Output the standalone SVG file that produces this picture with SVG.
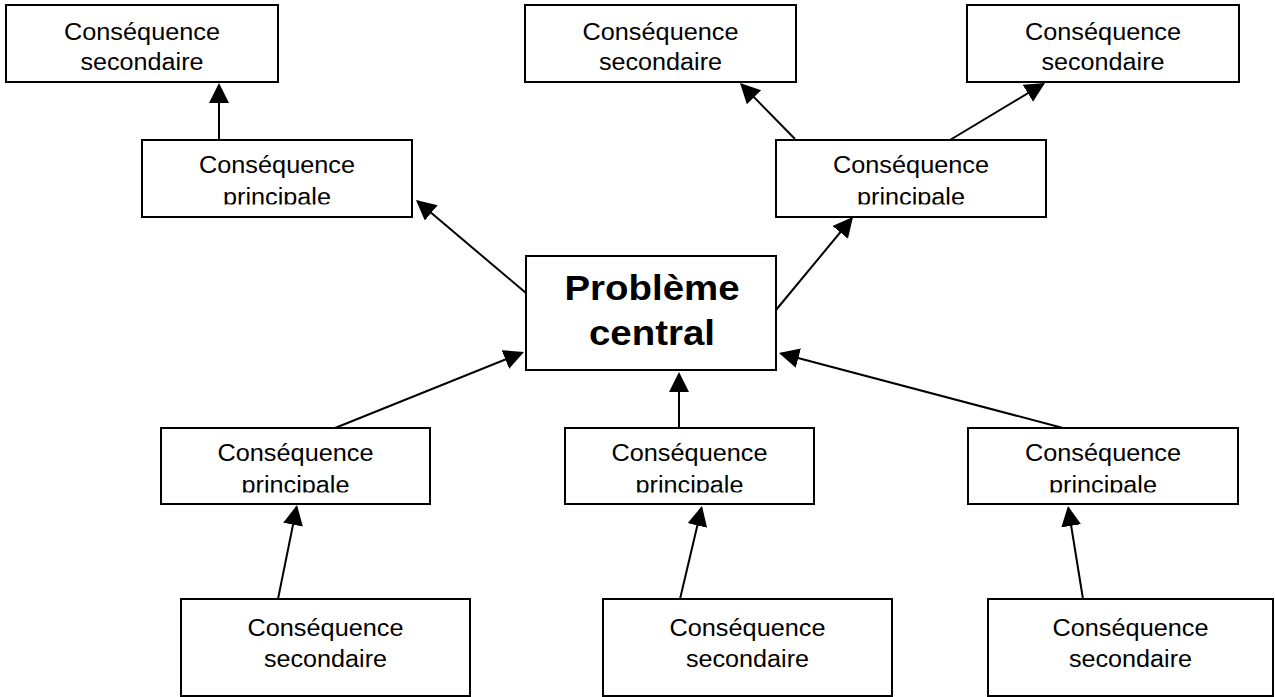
<svg xmlns="http://www.w3.org/2000/svg" width="1275" height="697" viewBox="0 0 1275 697">
  <style>
    .box { fill: #ffffff; stroke: #000000; stroke-width: 2; }
    .t { font-family: "Liberation Sans", Arial, sans-serif; font-size: 23.5px; fill: #000000; text-anchor: middle; }
    .tb { font-family: "Liberation Sans", Arial, sans-serif; font-size: 35px; font-weight: bold; fill: #000000; text-anchor: middle; }
    .conn line { stroke: #000000; stroke-width: 2; marker-end: url(#arrow); }
  </style>
  <defs>
    <marker id="arrow" markerUnits="userSpaceOnUse" markerWidth="21" markerHeight="21" refX="18" refY="10" orient="auto">
      <path d="M0,0 L20,10 L0,20 Z" fill="#000000"/>
    </marker>
    <clipPath id="cTL" clipPathUnits="userSpaceOnUse"><rect x="142" y="140" width="270" height="64.5"/></clipPath>
    <clipPath id="cTR" clipPathUnits="userSpaceOnUse"><rect x="776" y="140" width="270" height="64.5"/></clipPath>
    <clipPath id="cBL" clipPathUnits="userSpaceOnUse"><rect x="161" y="428" width="269" height="64.5"/></clipPath>
    <clipPath id="cBM" clipPathUnits="userSpaceOnUse"><rect x="565" y="428" width="249" height="64.5"/></clipPath>
    <clipPath id="cBR" clipPathUnits="userSpaceOnUse"><rect x="968" y="428" width="270" height="64.5"/></clipPath>
  </defs>
  <rect x="0" y="0" width="1275" height="697" fill="#ffffff"/>

  <g class="conn" id="connectors">
    <line x1="219" y1="140" x2="219" y2="85"/>
    <line x1="795" y1="139" x2="741.4" y2="84.4"/>
    <line x1="950" y1="140" x2="1043.3" y2="84"/>
    <line x1="526" y1="293" x2="417.5" y2="201.3"/>
    <line x1="776" y1="310" x2="851.7" y2="218.5"/>
    <line x1="335" y1="428" x2="522.1" y2="352.7"/>
    <line x1="679" y1="428" x2="679" y2="374"/>
    <line x1="1063" y1="428" x2="780.9" y2="353.5"/>
    <line x1="278" y1="599" x2="296.6" y2="507"/>
    <line x1="680" y1="599" x2="701.5" y2="507.9"/>
    <line x1="1083" y1="599" x2="1068.3" y2="508"/>
  </g>

  <g id="central">
    <rect class="box" x="526" y="256" width="250" height="114"/>
    <text class="tb" x="652" y="300" textLength="175" lengthAdjust="spacingAndGlyphs">Problème</text>
    <text class="tb" x="652" y="345" textLength="126" lengthAdjust="spacingAndGlyphs">central</text>
  </g>

  <g id="sec-top-left">
    <rect class="box" x="6" y="5" width="272" height="77"/>
    <text class="t" x="142" y="40" textLength="156" lengthAdjust="spacingAndGlyphs">Conséquence</text>
    <text class="t" x="142" y="70" textLength="123" lengthAdjust="spacingAndGlyphs">secondaire</text>
  </g>
  <g id="sec-top-mid">
    <rect class="box" x="525" y="5" width="271" height="77"/>
    <text class="t" x="660.5" y="40" textLength="156" lengthAdjust="spacingAndGlyphs">Conséquence</text>
    <text class="t" x="660.5" y="70" textLength="123" lengthAdjust="spacingAndGlyphs">secondaire</text>
  </g>
  <g id="sec-top-right">
    <rect class="box" x="967" y="5" width="272" height="77"/>
    <text class="t" x="1103" y="40" textLength="156" lengthAdjust="spacingAndGlyphs">Conséquence</text>
    <text class="t" x="1103" y="70" textLength="123" lengthAdjust="spacingAndGlyphs">secondaire</text>
  </g>

  <g id="prin-top-left">
    <rect class="box" x="142" y="140" width="270" height="77"/>
    <g clip-path="url(#cTL)">
      <text class="t" x="277" y="173" textLength="156" lengthAdjust="spacingAndGlyphs">Conséquence</text>
      <text class="t" x="277" y="205" textLength="108" lengthAdjust="spacingAndGlyphs">principale</text>
    </g>
  </g>
  <g id="prin-top-right">
    <rect class="box" x="776" y="140" width="270" height="77"/>
    <g clip-path="url(#cTR)">
      <text class="t" x="911" y="173" textLength="156" lengthAdjust="spacingAndGlyphs">Conséquence</text>
      <text class="t" x="911" y="205" textLength="108" lengthAdjust="spacingAndGlyphs">principale</text>
    </g>
  </g>

  <g id="prin-bottom-left">
    <rect class="box" x="161" y="428" width="269" height="76"/>
    <g clip-path="url(#cBL)">
      <text class="t" x="295.5" y="461" textLength="156" lengthAdjust="spacingAndGlyphs">Conséquence</text>
      <text class="t" x="295.5" y="493" textLength="108" lengthAdjust="spacingAndGlyphs">principale</text>
    </g>
  </g>
  <g id="prin-bottom-mid">
    <rect class="box" x="565" y="428" width="249" height="76"/>
    <g clip-path="url(#cBM)">
      <text class="t" x="689.5" y="461" textLength="156" lengthAdjust="spacingAndGlyphs">Conséquence</text>
      <text class="t" x="689.5" y="493" textLength="108" lengthAdjust="spacingAndGlyphs">principale</text>
    </g>
  </g>
  <g id="prin-bottom-right">
    <rect class="box" x="968" y="428" width="270" height="76"/>
    <g clip-path="url(#cBR)">
      <text class="t" x="1103" y="461" textLength="156" lengthAdjust="spacingAndGlyphs">Conséquence</text>
      <text class="t" x="1103" y="493" textLength="108" lengthAdjust="spacingAndGlyphs">principale</text>
    </g>
  </g>

  <g id="sec-bottom-left">
    <rect class="box" x="181" y="599" width="289" height="97"/>
    <text class="t" x="325.5" y="636" textLength="156" lengthAdjust="spacingAndGlyphs">Conséquence</text>
    <text class="t" x="325.5" y="667" textLength="123" lengthAdjust="spacingAndGlyphs">secondaire</text>
  </g>
  <g id="sec-bottom-mid">
    <rect class="box" x="603" y="599" width="289" height="97"/>
    <text class="t" x="747.5" y="636" textLength="156" lengthAdjust="spacingAndGlyphs">Conséquence</text>
    <text class="t" x="747.5" y="667" textLength="123" lengthAdjust="spacingAndGlyphs">secondaire</text>
  </g>
  <g id="sec-bottom-right">
    <rect class="box" x="988" y="599" width="285" height="97"/>
    <text class="t" x="1130.5" y="636" textLength="156" lengthAdjust="spacingAndGlyphs">Conséquence</text>
    <text class="t" x="1130.5" y="667" textLength="123" lengthAdjust="spacingAndGlyphs">secondaire</text>
  </g>
</svg>
